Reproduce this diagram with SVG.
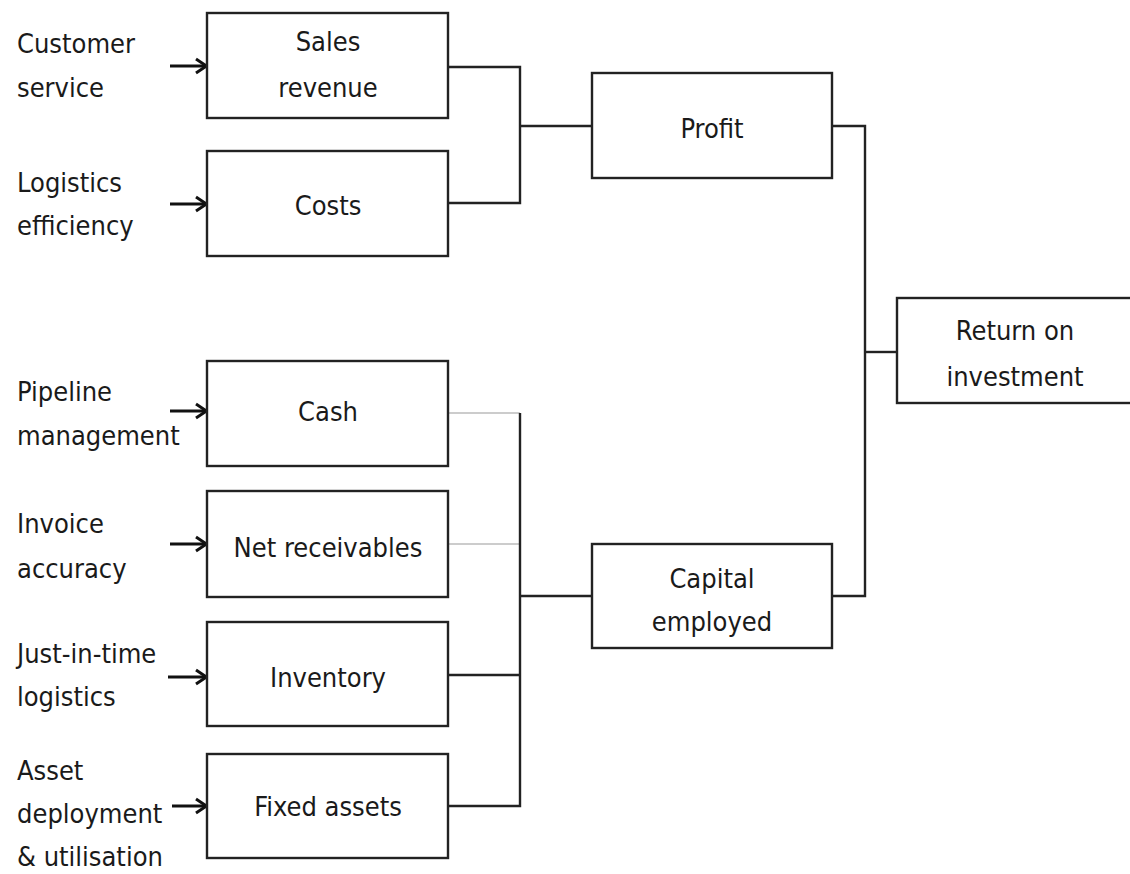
<svg xmlns="http://www.w3.org/2000/svg" width="1130" height="874" viewBox="0 0 1130 874">
  <defs>
    <marker id="chev" viewBox="0 0 16 18" refX="15" refY="9" markerWidth="16" markerHeight="18" markerUnits="userSpaceOnUse" orient="auto">
      <path d="M4,2 L14.5,9 L4,16" fill="none" stroke="#111" stroke-width="3"/>
    </marker>
  </defs>
  <style>
    text { font-family: "DejaVu Sans Condensed", "DejaVu Sans", Verdana, sans-serif; font-stretch: condensed; font-size: 27px; fill: #1a1a1a; }
    .lbl { text-anchor: start; }
    .box text { text-anchor: middle; }
    .box rect { fill: #fff; stroke: #222; stroke-width: 2.4; }
    .wire { fill: none; stroke: #222; stroke-width: 2.4; }
    .wire.thin { stroke: #999; stroke-width: 1.2; }
    .arrow { stroke: #111; stroke-width: 3; marker-end: url(#chev); }
  </style>
  <rect width="1130" height="874" fill="#fff"/>

  <!-- connectors -->
  <g id="connectors">
    <path class="wire" d="M448,67 H520 V203 H448"/>
    <path class="wire" d="M520,126 H592"/>
    <path class="wire" d="M832,126 H865 V596 H832"/>
    <path class="wire" d="M865,352 H897"/>
    <path class="wire thin" d="M448,413 H520"/>
    <path class="wire thin" d="M448,544 H520"/>
    <path class="wire" d="M520,413 V806 H448"/>
    <path class="wire" d="M448,675 H520"/>
    <path class="wire" d="M520,596 H592"/>
    <line class="arrow" x1="170" y1="66" x2="207" y2="66"/>
    <line class="arrow" x1="170" y1="204" x2="207" y2="204"/>
    <line class="arrow" x1="170" y1="411" x2="207" y2="411"/>
    <line class="arrow" x1="170" y1="544" x2="207" y2="544"/>
    <line class="arrow" x1="168" y1="677" x2="207" y2="677"/>
    <line class="arrow" x1="172" y1="806" x2="207" y2="806"/>
  </g>

  <!-- driver labels -->
  <g id="drivers">
    <text class="lbl" x="17" y="53">Customer</text>
    <text class="lbl" x="17" y="97">service</text>
    <text class="lbl" x="17" y="192">Logistics</text>
    <text class="lbl" x="17" y="235">efficiency</text>
    <text class="lbl" x="17" y="401">Pipeline</text>
    <text class="lbl" x="17" y="445">management</text>
    <text class="lbl" x="17" y="533">Invoice</text>
    <text class="lbl" x="17" y="578">accuracy</text>
    <text class="lbl" x="17" y="663">Just-in-time</text>
    <text class="lbl" x="17" y="706">logistics</text>
    <text class="lbl" x="17" y="780">Asset</text>
    <text class="lbl" x="17" y="823">deployment</text>
    <text class="lbl" x="17" y="866">&amp; utilisation</text>
  </g>

  <g id="sales-revenue" class="box">
    <rect x="207" y="13" width="241" height="105"/>
    <text x="328" y="51">Sales</text>
    <text x="328" y="97">revenue</text>
  </g>
  <g id="costs" class="box">
    <rect x="207" y="151" width="241" height="105"/>
    <text x="328" y="215">Costs</text>
  </g>
  <g id="profit" class="box">
    <rect x="592" y="73" width="240" height="105"/>
    <text x="712" y="138">Profit</text>
  </g>
  <g id="return-on-investment" class="box">
    <rect x="897" y="298" width="240" height="105"/>
    <text x="1015" y="340">Return on</text>
    <text x="1015" y="386">investment</text>
  </g>
  <g id="cash" class="box">
    <rect x="207" y="361" width="241" height="105"/>
    <text x="328" y="421">Cash</text>
  </g>
  <g id="net-receivables" class="box">
    <rect x="207" y="491" width="241" height="106"/>
    <text x="328" y="557">Net receivables</text>
  </g>
  <g id="inventory" class="box">
    <rect x="207" y="622" width="241" height="104"/>
    <text x="328" y="687">Inventory</text>
  </g>
  <g id="fixed-assets" class="box">
    <rect x="207" y="754" width="241" height="104"/>
    <text x="328" y="816">Fixed assets</text>
  </g>
  <g id="capital-employed" class="box">
    <rect x="592" y="544" width="240" height="104"/>
    <text x="712" y="588">Capital</text>
    <text x="712" y="631">employed</text>
  </g>
</svg>
